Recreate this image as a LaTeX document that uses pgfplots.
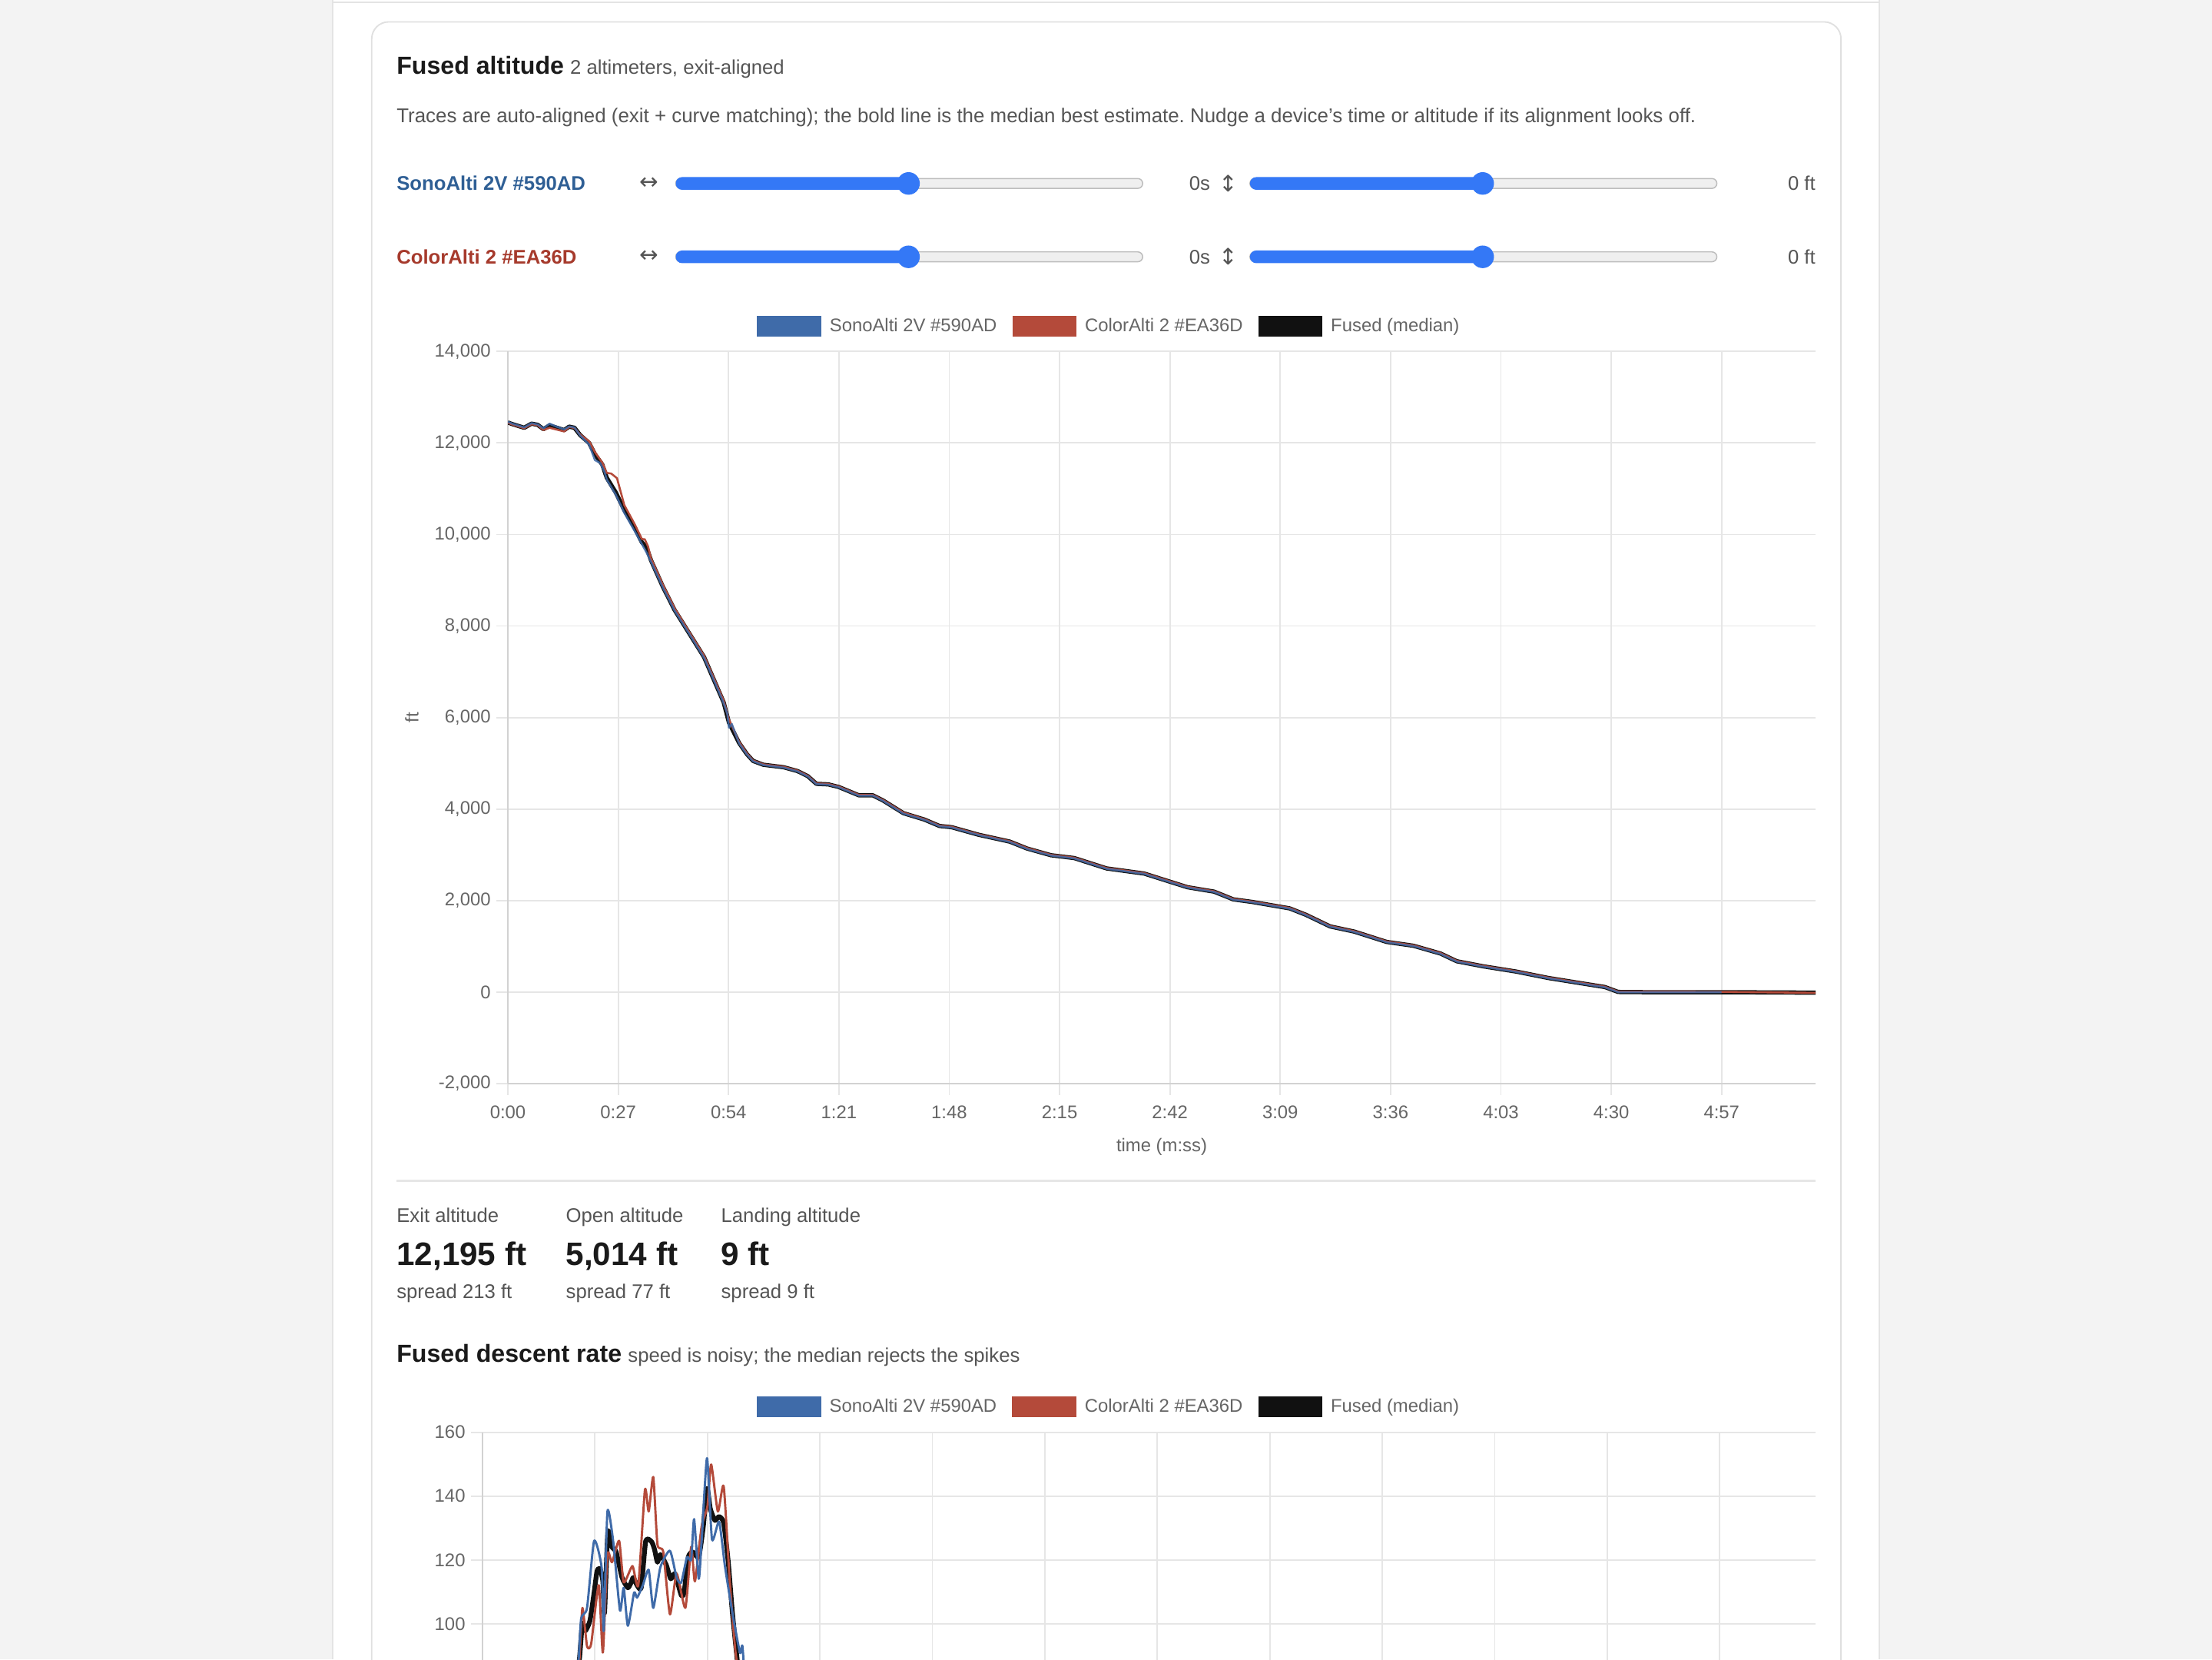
\documentclass[border=0pt]{standalone}
\usepackage{fontspec}
\setmainfont{Liberation Sans}
\newfontfamily\symfont{DejaVu Sans}
\usepackage{pgfplots}
\pgfplotsset{compat=1.18}
\usepackage{pgfplotstable}
\frenchspacing

\definecolor{bgc}{HTML}{F3F3F3}
\definecolor{colb}{HTML}{E4E4E4}
\definecolor{cardb}{HTML}{E0E0E0}
\definecolor{txt}{HTML}{1A1A1A}
\definecolor{sub}{HTML}{555555}
\definecolor{tickc}{HTML}{666666}
\definecolor{gridc}{HTML}{E6E6E6}
\definecolor{axc}{HTML}{D2D2D2}
\definecolor{sblue}{HTML}{3F6BA9}
\definecolor{sred}{HTML}{B44A3A}
\definecolor{fblack}{HTML}{111111}
\definecolor{slider}{HTML}{3478F6}
\definecolor{track}{HTML}{EFEFEF}
\definecolor{trackb}{HTML}{BDBDBD}
\definecolor{lblue}{HTML}{2F5F95}
\definecolor{lred}{HTML}{A63A2C}

\newcommand{\fs}[1]{\fontsize{#1}{#1}\selectfont}

% ---------- altitude (ft) vs time (s) ----------
\pgfplotstableread{
t alt
0 12446
1.2 12408
4.0 12331
5.8 12421
7.3 12395
8.7 12300
10.2 12382
12.0 12331
13.8 12280
15.0 12356
16.3 12331
17.7 12170
19.9 11997
21.3 11753
23.1 11528
24.2 11239
26.4 10918
28.5 10533
31.0 10148
32.8 9827
33.9 9731
35.0 9442
37.9 8864
40.8 8350
44.4 7837
48.0 7323
50.8 6746
52.8 6334
54.1 5889
56.6 5443
58.5 5200
60.0 5053
62.5 4969
67.5 4914
70.9 4830
73.4 4719
75.5 4552
78.4 4540
80.9 4485
85.9 4301
89.3 4301
91.8 4189
96.8 3911
101.9 3772
105.6 3632
108.6 3604
115.3 3437
122.8 3290
127.0 3140
132.9 2992
138.6 2930
146.5 2704
155.7 2592
159.7 2479
166.3 2293
172.8 2197
177.5 2028
182.1 1972
191.3 1831
195.3 1690
201.2 1437
207.1 1324
215.0 1099
221.6 1014
228.2 845
232.2 676
238.8 563
246.7 451
254.6 310
262.5 197
268.4 113
271.7 5
278.3 0
297 0
320 -10
}\altF

\pgfplotstableread{
t alt
0 12462
1.2 12418
4.0 12340
5.8 12433
7.3 12402
8.7 12318
10.2 12420
12.0 12352
13.8 12296
15.0 12362
16.3 12338
17.7 12158
19.9 11962
21.3 11625
22.6 11560
23.6 11380
24.2 11200
26.4 10870
28.5 10470
31.0 10080
32.8 9790
33.9 9610
35.0 9410
37.9 8845
40.8 8335
44.4 7825
48.0 7305
50.8 6735
52.8 6315
53.7 6080
54.1 5777
54.8 5860
56.6 5430
58.5 5190
60.0 5045
62.5 4962
67.5 4905
70.9 4822
73.4 4712
75.5 4545
78.4 4532
80.9 4478
85.9 4292
89.3 4295
91.8 4180
96.8 3900
101.9 3765
105.6 3625
108.6 3596
115.3 3430
122.8 3282
127.0 3130
132.9 2985
138.6 2922
146.5 2696
155.7 2585
159.7 2470
166.3 2285
172.8 2190
177.5 2020
182.1 1965
191.3 1823
195.3 1682
201.2 1430
207.1 1316
215.0 1092
221.6 1006
228.2 836
232.2 668
238.8 556
246.7 444
254.6 303
262.5 190
268.4 106
271.7 0
278.3 -3
297 -2
}\altB

\pgfplotstableread{
t alt
0 12440
1.2 12398
4.0 12322
5.8 12410
7.3 12388
8.7 12282
10.2 12330
12.0 12290
13.8 12250
15.0 12350
16.3 12326
17.7 12182
19.9 12035
21.3 11800
23.1 11570
24.2 11345
25.3 11330
26.7 11230
28.5 10640
31.0 10230
32.8 9900
33.5 9895
34.3 9740
35.0 9480
37.9 8905
40.8 8385
44.4 7865
48.0 7350
50.8 6780
52.8 6370
54.1 5960
56.6 5465
58.5 5215
60.0 5062
62.5 4978
67.5 4922
70.9 4840
73.4 4728
75.5 4560
78.4 4548
80.9 4494
85.9 4310
89.3 4308
91.8 4198
96.8 3922
101.9 3780
105.6 3640
108.6 3612
115.3 3445
122.8 3298
127.0 3150
132.9 3000
138.6 2938
146.5 2712
155.7 2600
159.7 2488
166.3 2302
172.8 2205
177.5 2036
182.1 1980
191.3 1840
195.3 1698
201.2 1445
207.1 1332
215.0 1108
221.6 1022
228.2 854
232.2 684
238.8 571
246.7 459
254.6 318
262.5 205
268.4 120
271.7 12
278.3 9
297 8
320 -15
}\altR

% ---------- descent rate (mph) vs time (s) ----------
\pgfplotstableread{
t v
0 0
17 2
20 40
22.5 80
23.3 89.3
24.0 100.2
24.7 97.8
25.8 101
26.8 109.8
27.5 116.5
28.2 117.3
28.9 113.3
29.3 103.4
30.1 128.8
31.1 124
32.1 122.5
33.5 114.5
34.9 111.3
35.7 113
36.2 114.5
37.1 112.1
38.1 111.3
39.2 126
40.6 125.7
41.3 123.3
42.0 119.3
42.7 121.7
44.1 118.5
45.2 114.1
46.2 115.7
47.7 109
48.4 109.8
49.4 120.9
50.5 122.5
51.9 120.9
53.0 130.4
53.9 142.4
54.7 136
55.8 132.4
56.8 133.6
57.9 131.6
59.0 119.3
60.0 103.4
61.1 89.3
62.5 70
64 45
66 30
70 22
100 18
200 16
270 14
272 0
320 0
}\rateF

\pgfplotstableread{
t v
0 0
17 3
20 45
22.6 84
23.1 89.3
23.7 101.8
25.1 105
26.8 126
28.6 117.7
29.1 97.8
30.0 135.2
31.4 125.6
33.0 104.2
33.9 111.3
34.9 99.4
36.4 109.8
37.1 108.2
38.5 112.1
39.9 116.9
41.0 105
42.7 117.7
45.0 122.9
46.6 114.5
47.7 112.9
49.1 120.9
50.1 120.1
50.8 132.8
51.9 114.1
52.6 125.7
53.9 151.9
55.1 126.4
56.8 132
58.2 118.1
60.0 103.4
61.8 91
62.4 93
63.2 78
65 48
68 28
72 21
100 17
200 16
270 13
272 0
297 0
}\rateB

\pgfplotstableread{
t v
0 0
17 2
20 42
22.8 85
23.3 89.3
24.0 105
25.1 93
26.1 93.8
27.9 112.1
28.9 91
30.0 121.7
31.1 119.3
32.8 126
33.9 113
36.0 118.1
37.4 112.1
39.0 142
39.9 135.2
41.0 146
42.0 124.9
43.4 122.5
45.0 103
46.6 115.7
48.7 105
50.1 124.1
51.0 113.3
52.6 130.4
54.0 136.8
54.9 149.9
56.5 135.2
57.9 143.1
59.3 114.5
60.7 91.5
62 80
64 50
67 30
71 22
100 18
200 15
270 14
272 0
320 0
}\rateR

\pgfplotsset{
  webchart/.style={
    scale only axis,
    scaled x ticks=false, scaled y ticks=false,
    axis x line*=bottom, axis y line*=left,
    axis line style={-, draw=axc, line width=1pt},
    grid=major, major grid style={draw=gridc, line width=1pt},
    tick align=outside, major tick length=8pt,
    tick style={draw=gridc, line width=1pt},
    xtick={0,27,54,81,108,135,162,189,216,243,270,297},
    xticklabel style={font=\fs{13}, text=tickc, inner sep=0pt},
    yticklabel style={font=\fs{13}, text=tickc, inner sep=0pt},
    label style={font=\fs{13}, text=tickc, inner sep=0pt},
    xmin=0, xmax=320,
    legend style={draw=none, fill=none, inner sep=0pt, outer sep=0pt,
      font=\fs{13}, text=tickc, legend columns=3, anchor=center,
      nodes={inner sep=0pt},
      /tikz/every odd column/.append style={column sep=6pt},
      /tikz/every even column/.append style={column sep=11pt}},
    legend cell align=left,
  },
}

\begin{document}
\begin{tikzpicture}[x=1pt,y=1pt]
\useasboundingbox (0,0) rectangle (1568,-1176);
\clip (0,0) rectangle (1568,-1176);
\fill[bgc] (0,0) rectangle (1568,-1176);
\fill[white] (236,0) rectangle (1332,-1176);
\draw[colb, line width=1pt] (236,0) -- (236,-1176);
\draw[colb, line width=1pt] (1332,0) -- (1332,-1176);
\draw[colb, line width=1pt] (236,-1.5) -- (1332,-1.5);
\draw[cardb, line width=1pt, fill=white, rounded corners=12pt] (263.5,-15.5) rectangle (1305,-1300);

% header
\node[anchor=base west, inner sep=0, text=txt] at (281,-52.5) {\fs{17.5}\bfseries Fused altitude};
\node[anchor=base west, inner sep=0, text=sub] at (404,-52.5) {\fs{14}2 altimeters, exit-aligned};
\node[anchor=base west, inner sep=0, text=sub] at (281,-87) {\fs{14.1}Traces are auto-aligned (exit + curve matching); the bold line is the median best estimate. Nudge a device's time or altitude if its alignment looks off.};

% slider rows
\foreach \yy/\lab/\lc in {130/SonoAlti 2V \#590AD/lblue, 182/ColorAlti 2 \#EA36D/lred}{
  \node[anchor=base west, inner sep=0, text=\lc] at (281,-\yy-5) {\fs{14}\bfseries \lab};
  \node[inner sep=0, text=sub] at (460,-\yy) {\symfont\fs{16}↔};
  \draw[trackb, line width=0.8pt, fill=track, rounded corners=3.5pt] (479,-\yy+3.5) rectangle (810,-\yy-3.5);
  \fill[slider, rounded corners=4.5pt] (479,-\yy+4.5) rectangle (646,-\yy-4.5);
  \fill[slider] (644,-\yy) circle (8);
  \node[anchor=base east, inner sep=0, text=sub] at (858,-\yy-5) {\fs{14}0s};
  \node[inner sep=0, text=sub] at (871,-\yy) {\symfont\fs{16}↕};
  \draw[trackb, line width=0.8pt, fill=track, rounded corners=3.5pt] (886,-\yy+3.5) rectangle (1217,-\yy-3.5);
  \fill[slider, rounded corners=4.5pt] (886,-\yy+4.5) rectangle (1053,-\yy-4.5);
  \fill[slider] (1051,-\yy) circle (8);
  \node[anchor=base east, inner sep=0, text=sub] at (1287,-\yy-5) {\fs{14}0 ft};
}

% ---------- altitude chart ----------
\begin{axis}[webchart,
  at={(360pt,-768pt)}, anchor=south west,
  width=927pt, height=519pt,
  ymin=-2000, ymax=14000,
  xticklabels={0:00,0:27,0:54,1:21,1:48,2:15,2:42,3:09,3:36,4:03,4:30,4:57},
  ytick={-2000,0,2000,4000,6000,8000,10000,12000,14000},
  yticklabels={{-2,000},{0},{2,000},{4,000},{6,000},{8,000},{10,000},{12,000},{14,000}},
  xticklabel style={anchor=north, yshift=-7.5pt},
  yticklabel style={anchor=east, xshift=-4pt},
  xlabel={time (m:ss)}, ylabel={ft},
  xlabel style={at={(axis description cs:0.5,-0.0865)}, anchor=center},
  ylabel style={at={(axis description cs:-0.0734,0.5)}, anchor=center},
  legend style={at={(axis description cs:0.4591,1.0347)}},
]
\addlegendimage{legend image code/.code={\fill[sblue] (0pt,-7pt) rectangle (45pt,7pt);}}
\addlegendentry{SonoAlti 2V \#590AD}
\addlegendimage{legend image code/.code={\fill[sred] (0pt,-7pt) rectangle (45pt,7pt);}}
\addlegendentry{ColorAlti 2 \#EA36D}
\addlegendimage{legend image code/.code={\fill[fblack] (0pt,-7pt) rectangle (45pt,7pt);}}
\addlegendentry{Fused (median)}
\addplot[fblack, line width=3pt, line join=round, forget plot] table[x=t,y=alt] {\altF};
\addplot[sred, line width=1.4pt, line join=round, forget plot] table[x=t,y=alt] {\altR};
\addplot[sblue, line width=1.4pt, line join=round, opacity=0.85, forget plot] table[x=t,y=alt] {\altB};
\end{axis}

\draw[gridc, line width=1.5pt] (281,-837) -- (1287,-837);

% stats
\foreach \xx/\la/\va/\sa in {281/Exit altitude/{12,195 ft}/spread 213 ft, 401/Open altitude/{5,014 ft}/spread 77 ft, 511/Landing altitude/9 ft/spread 9 ft}{
  \node[anchor=base west, inner sep=0, text=sub] at (\xx,-866) {\fs{14}\la};
  \node[anchor=base west, inner sep=0, text=txt] at (\xx,-896.5) {\fs{23}\bfseries \va};
  \node[anchor=base west, inner sep=0, text=sub] at (\xx,-920) {\fs{14}\sa};
}

\node[anchor=base west, inner sep=0, text=txt] at (281,-965.5) {\fs{17.5}\bfseries Fused descent rate};
\node[anchor=base west, inner sep=0, text=sub] at (445,-965.5) {\fs{14}speed is noisy; the median rejects the spikes};

% ---------- descent rate chart ----------
\begin{axis}[webchart,
  at={(342pt,-1377pt)}, anchor=south west,
  width=945pt, height=362pt,
  ymin=0, ymax=160,
  xticklabels={},
  ytick={100,120,140,160},
  yticklabels={100,120,140,160},
  yticklabel style={anchor=east, xshift=-4pt},
  legend style={at={(axis description cs:0.4693,1.0497)}},
]
\addlegendimage{legend image code/.code={\fill[sblue] (0pt,-7pt) rectangle (45pt,7pt);}}
\addlegendentry{SonoAlti 2V \#590AD}
\addlegendimage{legend image code/.code={\fill[sred] (0pt,-7pt) rectangle (45pt,7pt);}}
\addlegendentry{ColorAlti 2 \#EA36D}
\addlegendimage{legend image code/.code={\fill[fblack] (0pt,-7pt) rectangle (45pt,7pt);}}
\addlegendentry{Fused (median)}
\addplot[fblack, line width=3.4pt, line join=round, smooth, tension=0.35, forget plot] table[x=t,y=v] {\rateF};
\addplot[sred, line width=1.6pt, line join=round, smooth, tension=0.35, forget plot] table[x=t,y=v] {\rateR};
\addplot[sblue, line width=1.6pt, line join=round, smooth, tension=0.35, forget plot] table[x=t,y=v] {\rateB};
\end{axis}
\end{tikzpicture}
\end{document}
